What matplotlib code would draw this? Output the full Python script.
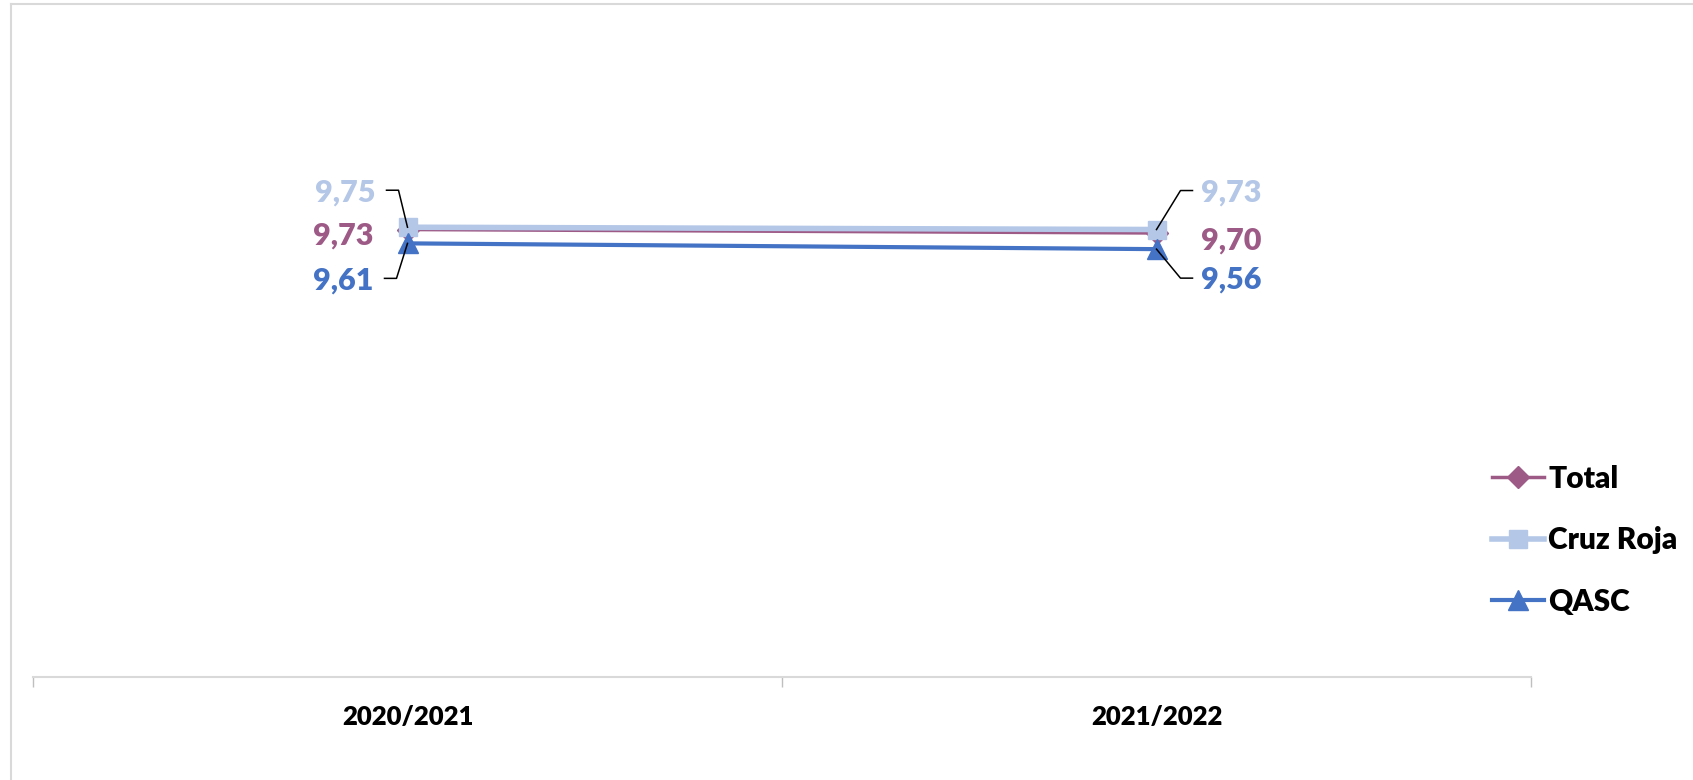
import matplotlib.pyplot as plt
from matplotlib.lines import Line2D
from matplotlib.transforms import Affine2D

# Academic years on the x axis and the three satisfaction series
years = ['2020/2021', '2021/2022']
total = [9.73, 9.70]
cruz_roja = [9.75, 9.73]
qasc = [9.61, 9.56]

c_total = '#9E5A87'
c_cruz = '#B4C7E7'
c_qasc = '#4472C4'
grid_grey = '#D9D9D9'

plt.rcParams['font.family'] = ['Lato', 'DejaVu Sans']
plt.rcParams['font.weight'] = 'heavy'
heavy = 'heavy'

fig = plt.figure(figsize=(16.93, 7.8), dpi=100)
W, H = 1693, 780
ax = fig.add_axes([33 / W, 1 - 677 / H, (1531 - 33) / W, (677 - 60) / H])

x = list(range(len(years)))
ax.plot(x, total, color=c_total, lw=2.5, marker='D', ms=11, label='Total', zorder=3)
ax.plot(x, cruz_roja, color=c_cruz, lw=4, marker='s', ms=13, label='Cruz Roja', zorder=4)
ax.plot(x, qasc, color=c_qasc, lw=3, marker='^', ms=14, label='QASC', zorder=5)

ax.set_xlim(-0.5, 1.5)
ax.set_ylim(5.85, 11.2)

# axis: only the bottom line with tick marks between categories
for side in ['left', 'right', 'top']:
    ax.spines[side].set_visible(False)
ax.spines['bottom'].set_color(grid_grey)
ax.spines['bottom'].set_linewidth(1.5)
ax.set_yticks([])
ax.set_xticks([-0.5, 0.5, 1.5])
ax.set_xticklabels([])
ax.tick_params(axis='x', which='major', length=7, width=1, color='#BFBFBF', direction='out')
ax.set_xticks(x, minor=True)
ax.set_xticklabels(years, minor=True, fontsize=18.5, fontweight=heavy)
ax.tick_params(axis='x', which='minor', length=0, pad=20)

fig.canvas.draw()


def leader(xi, yi, pts):
    # short elbow line from a data label to its point, offsets in pixels
    px, py = ax.transData.transform((xi, yi))
    xs = [p[0] for p in pts]
    ys = [p[1] for p in pts]
    ln = Line2D(xs, ys, color='black', lw=1.1,
                transform=Affine2D().translate(px, py), zorder=6)
    fig.add_artist(ln)


def label(xi, yi, text, color, dx, dy, ha):
    ax.annotate(text, xy=(xi, yi), xytext=(dx, dy), textcoords='offset pixels',
                ha=ha, va='center', color=color, fontsize=22, fontweight=heavy,
                annotation_clip=False)


def fmt(v):
    return f'{v:.2f}'.replace('.', ',')


# left-hand labels
label(0, cruz_roja[0], fmt(cruz_roja[0]), c_cruz, -32, 35, 'right')
label(0, total[0], fmt(total[0]), c_total, -34, -6, 'right')
label(0, qasc[0], fmt(qasc[0]), c_qasc, -34, -37, 'right')
leader(0, cruz_roja[0], [(-21, 37), (-9, 37), (0, 0)])
leader(0, qasc[0], [(-23, -35), (-11, -35), (0, 0)])

# right-hand labels
label(1, cruz_roja[1], fmt(cruz_roja[1]), c_cruz, 45, 37, 'left')
label(1, total[1], fmt(total[1]), c_total, 45, -8, 'left')
label(1, qasc[1], fmt(qasc[1]), c_qasc, 45, -30, 'left')
leader(1, cruz_roja[1], [(36, 39), (24, 39), (0, 0)])
leader(1, qasc[1], [(36, -29), (24, -29), (0, 0)])

fig.legend(loc='upper left', bbox_to_anchor=(1477 / W, 1 - 450 / H), frameon=False,
           borderpad=0, handlelength=1.75, handletextpad=0.13, labelspacing=1.12,
           prop={'size': 21.5, 'weight': heavy})

# chart area border (left and top edges)
fig.add_artist(Line2D([11 / W, 11 / W], [0, 1 - 4 / H], color=grid_grey, lw=1.5))
fig.add_artist(Line2D([11 / W, 1], [1 - 4 / H, 1 - 4 / H], color=grid_grey, lw=1.5))

fig.savefig('out.png', dpi=100)
